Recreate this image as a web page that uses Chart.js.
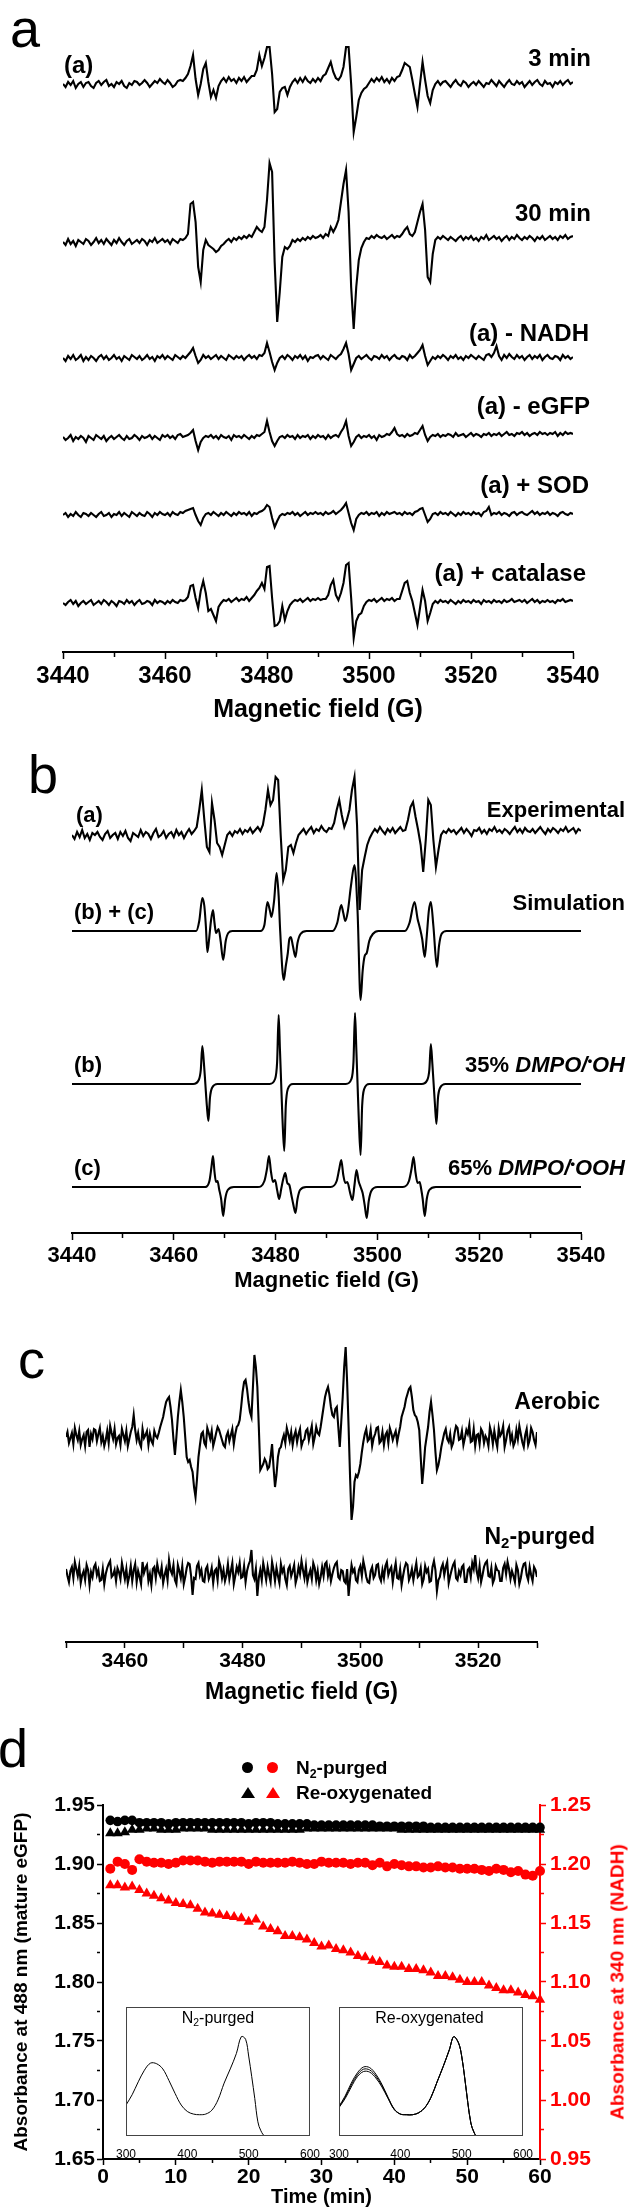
<!DOCTYPE html>
<html>
<head>
<meta charset="utf-8">
<script src="https://cdn.jsdelivr.net/npm/chart.js@4.4.1/dist/chart.umd.min.js"></script>
<style>
  body { margin: 0; background: #fff; }
  #fig { position: relative; width: 628px; height: 2209px; overflow: hidden; font-family: "Liberation Sans", Arial, sans-serif; color: #000; }
  canvas { position: absolute; }
  .t { position: absolute; white-space: nowrap; font-weight: bold; }
  .p24 { font-size: 24px; line-height: 24px; }
  .p22 { font-size: 22px; line-height: 22px; }
  .p23 { font-size: 23px; line-height: 23px; }
  .p19 { font-size: 19px; line-height: 19px; }
  .letter { position: absolute; font-size: 54px; line-height: 54px; font-weight: normal; }
  .inset-title { position: absolute; text-align: center; font-size: 16px; line-height: 16px; font-weight: normal; }
  sub { font-size: 65%; vertical-align: -0.3em; line-height: 0; }
  sup { font-size: 60%; vertical-align: 0.55em; line-height: 0; }
  .dot { position: absolute; width: 11px; height: 11px; border-radius: 50%; }
  .tri { position: absolute; width: 0; height: 0; border-left: 7px solid transparent; border-right: 7px solid transparent; border-bottom: 11px solid #000; }
</style>
</head>
<body>
<div id="fig">
  <canvas id="cA" width="628" height="740" style="left:0;top:0"></canvas>
  <canvas id="cB" width="628" height="560" style="left:0;top:740px"></canvas>
  <canvas id="cC" width="628" height="410" style="left:0;top:1300px"></canvas>
  <canvas id="cD" width="628" height="499" style="left:0;top:1710px"></canvas>
  <canvas id="cI1" width="210" height="165" style="left:113px;top:2000px"></canvas>
  <canvas id="cI2" width="210" height="165" style="left:326px;top:2000px"></canvas>

  <div class="letter" style="left:10px;top:1px">a</div>
  <div class="letter" style="left:28px;top:747px">b</div>
  <div class="letter" style="left:18px;top:1332px">c</div>
  <div class="letter" style="left:-2px;top:1721px">d</div>

  <div class="t p24" style="left:64px;top:53px">(a)</div>
  <div class="t p24" style="right:37px;top:46px">3 min</div>
  <div class="t p24" style="right:37px;top:201px">30 min</div>
  <div class="t p24" style="right:39px;top:321px">(a) - NADH</div>
  <div class="t p24" style="right:38px;top:394px">(a) - eGFP</div>
  <div class="t p24" style="right:39px;top:473px">(a) + SOD</div>
  <div class="t p24" style="right:42px;top:561px">(a) + catalase</div>

  <div class="t p22" style="left:76px;top:804px">(a)</div>
  <div class="t p22" style="right:3px;top:799px">Experimental</div>
  <div class="t p22" style="left:74px;top:901px">(b) + (c)</div>
  <div class="t p22" style="right:3px;top:892px">Simulation</div>
  <div class="t p22" style="left:74px;top:1054px">(b)</div>
  <div class="t p22" style="right:3px;top:1054px">35% <i>DMPO/<sup>•</sup>OH</i></div>
  <div class="t p22" style="left:74px;top:1157px">(c)</div>
  <div class="t p22" style="right:3px;top:1157px">65% <i>DMPO/<sup>•</sup>OOH</i></div>

  <div class="t p23" style="right:28px;top:1390px">Aerobic</div>
  <div class="t p23" style="right:33px;top:1525px">N<sub>2</sub>-purged</div>

  <div class="dot" style="left:242px;top:1762px;background:#000"></div>
  <div class="dot" style="left:267px;top:1762px;background:#f00"></div>
  <div class="t p19" style="left:296px;top:1758px">N<sub>2</sub>-purged</div>
  <div class="tri" style="left:241px;top:1787px"></div>
  <div class="tri" style="left:266px;top:1787px;border-bottom-color:#f00"></div>
  <div class="t p19" style="left:296px;top:1783px">Re-oxygenated</div>
  <div class="t p19" style="left:617px;top:1982px;color:#f00;transform:translate(-50%,-50%) rotate(-90deg)">Absorbance at 340 nm (NADH)</div>

  <div class="inset-title" style="left:123px;width:190px;top:2010px">N<sub>2</sub>-purged</div>
  <div class="inset-title" style="left:336px;width:187px;top:2010px">Re-oxygenated</div>
</div>

<script>
// ---- panels a/b: EPR spectra, 3440-3540 G sampled every 0.5 G (amplitudes in px above baseline)
const fieldStartAB = 3440;
const fieldStepAB = 0.5;
// ---- panel c: 3450-3530 G sampled every 0.25 G
const fieldStartC = 3450;
const fieldStepC = 0.25;

const spec3min = [
  0,-3,2,-1,3,-4,0,2,-3,1, 2,-2,-4,1,3,-1,2,4,-2,0, -3,2,0,3,-2,-4,1,-1,3,2, -1,1,4,1,-3,0,3,1,5,2,
  0,4,1,-3,-1,3,4,3,6,10, 18,29,5,-11,0,15,21,2,-13,-6, -14,-2,3,6,2,7,3,5,1,6, 3,7,2,5,8,8,14,29,18,26,
  37,37,10,-28,-25,-8,-4,-3,-11,-3, 2,5,1,6,2,7,3,1,5,2, 6,3,8,10,16,22,12,6,4,8, 17,37,37,0,-48,-33,-16,-9,-5,-3,
  1,5,2,6,3,7,2,5,1,6, 3,7,8,14,21,19,17,4,-10,-23, 0,22,4,-12,-19,-6,0,3,-1,2, 3,0,-3,1,4,0,-2,3,1,-3,
  0,2,-1,3,0,-3,1,0,4,1, -2,3,0,-3,1,4,0,-1,3,0, 2,-3,0,3,-1,2,4,0,-2,3, 0,1,-3,2,0,3,-1,2,4,0, 2];
const spec30min = [
  0,-3,3,-2,1,-4,2,0,-2,3, 1,-3,0,4,-1,2,-2,3,0,-3, 2,-1,4,0,-3,1,3,-2,0,2, -1,3,1,-3,2,0,4,-1,1,3,
  0,2,-2,3,1,-1,3,2,4,8, 38,40,20,-25,-40,-8,2,-3,-5,-7, -10,-8,-4,-2,1,3,0,4,2,5, 3,6,4,7,5,10,15,12,10,15,
  42,79,70,-20,-80,-50,-15,-5,-7,-4, 2,0,3,1,4,2,5,3,6,4, 5,7,4,8,6,15,10,15,22,40, 58,72,30,-45,-87,-45,-18,-6,0,4,
  3,6,4,7,5,4,6,3,5,7, 4,6,5,8,12,15,8,6,10,20, 30,38,12,-35,-40,-12,2,5,3,6, 4,2,5,3,1,4,6,2,5,3,
  6,2,4,1,5,3,7,2,4,6, 3,5,1,4,6,2,5,3,7,4, 2,5,3,6,4,1,5,3,6,2, 4,6,3,5,2,6,4,7,3,5, 6];
const specNoNADH = [
  0,-3,2,-1,3,-2,0,3,-3,1, -2,2,0,-3,1,3,-1,2,-2,0, 3,-1,1,-3,2,0,-2,3,1,-1, 2,-2,0,3,-1,1,-3,2,0,3,
  -1,2,0,-2,3,1,-1,2,0,3, 6,10,2,-5,-2,3,0,2,-1,1, 3,-1,2,0,-2,3,1,-1,2,0, 2,-2,1,3,0,2,-1,3,2,5,
  15,6,-4,-12,-5,0,2,-1,3,1, -2,2,0,3,-1,2,-3,1,0,2, 3,-1,2,0,-2,3,1,-1,2,4, 9,15,4,-12,-6,0,2,-1,1,3,
  0,-2,2,1,-1,3,0,2,-2,1, 3,0,-1,2,1,-2,3,0,2,5, 8,13,2,-7,-3,1,-1,2,0,3, 1,-2,2,0,3,-1,1,-2,2,0,
  3,1,-1,2,0,-2,3,4,1,5, 12,2,-2,3,0,4,1,-1,3,0, 2,-2,1,3,-1,2,0,3,-2,1, 3,0,-1,2,1,-2,3,0,2,-1, 1];
const specNoEGFP = [
  1,-2,0,3,-3,1,-1,2,0,-4, 2,0,-2,3,1,-1,2,-3,0,2, -1,1,3,0,-2,2,-1,0,3,1, -2,2,0,1,3,-1,2,0,-2,3,
  1,3,0,2,-1,3,4,1,2,3, 5,8,-3,-12,-4,0,2,1,3,0, 2,-1,3,1,0,2,-2,3,1,2, 0,3,1,-1,2,0,3,2,4,6,
  17,6,-3,-8,-3,1,2,0,3,1, 2,-1,3,0,2,1,3,-1,2,0, 3,1,2,-1,3,0,2,3,1,6, 10,17,2,-8,-4,1,3,0,2,1,
  3,0,2,-2,3,1,2,4,3,6, 10,4,2,3,1,4,2,3,5,4, 8,12,3,-3,1,3,2,4,1,3, 2,4,3,1,5,2,3,4,1,3,
  5,2,4,3,1,4,3,5,2,4, 3,5,2,4,6,3,4,2,5,4, 6,3,5,2,4,5,3,6,4,5, 3,5,4,6,2,5,3,6,4,5, 4];
const specSOD = [
  0,2,-2,1,-1,3,0,-2,2,1, -1,2,0,-2,1,3,-1,0,2,-2, 1,0,3,-1,2,0,-2,3,1,-1, 2,0,-1,3,1,-2,2,0,3,1,
  0,2,-1,3,1,0,3,2,4,5, 6,7,0,-6,-10,-3,1,2,0,3, 1,-1,2,0,3,1,-1,2,0,3, 1,2,0,3,-1,2,1,3,4,6,
  10,8,-3,-12,-6,-1,1,0,2,1, 3,0,2,-1,1,3,0,2,1,3, 1,2,0,3,1,2,4,1,3,5, 8,12,2,-8,-15,-4,0,2,1,3,
  0,2,1,3,-1,2,0,3,1,2, 3,1,2,0,3,1,2,0,3,4, 6,7,0,-7,-4,1,2,0,3,1, 2,0,3,1,-1,2,0,3,1,2,
  0,3,1,2,-1,3,4,8,0,2, 1,3,0,2,1,-1,2,3,0,2, 3,1,0,2,4,1,3,0,2,1, 3,0,2,1,-1,2,3,1,0,2, 1];
const specCatalase = [
  0,-2,1,3,-1,2,-3,0,2,-1, 1,3,-2,0,2,-1,3,1,-2,2, 0,-3,2,1,-1,3,0,2,-2,1, 3,-1,0,2,1,-2,3,0,2,1,
  -1,2,0,3,1,0,3,2,3,6, 17,18,5,-5,12,22,10,-8,-6,-12, -18,-4,0,3,2,4,1,3,5,2, 4,3,6,2,5,8,12,15,20,14,
  36,37,5,-23,-22,-18,-3,-17,-8,-2, 1,3,2,4,1,3,5,2,4,3, 5,3,4,4,8,18,23,8,3,10, 20,38,40,5,-35,-18,-12,-10,-3,1,
  3,2,4,1,3,5,2,4,3,5, 2,4,4,12,20,22,10,2,-10,-22, -5,13,2,-18,-10,-1,2,0,3,1, 2,0,3,1,-1,2,0,3,1,2,
  0,3,1,2,-1,3,1,2,0,3, 1,2,0,3,1,2,4,1,2,3, 1,3,0,2,4,1,3,0,2,1, 3,1,2,0,3,2,4,1,2,3, 2];

// ---- panel b: experimental spectrum (0.5 G grid) and simulations (field, amplitude pairs)
const specExperimental = [
  0,-4,3,-2,5,-3,1,-5,2,0, 3,-2,-5,1,4,-3,0,2,-4,3, -1,4,-3,-6,2,0,-2,5,-1,3, 1,-4,2,6,-2,0,4,-3,1,3,
  -2,5,0,3,-3,2,6,1,4,8, 25,45,15,-12,-17,32,15,-8,-12,-20, -10,0,3,-1,4,2,6,1,5,3, 7,2,5,8,4,10,25,45,30,35,
  58,55,0,-45,-35,-12,-10,-18,-8,0, 3,6,1,5,8,2,6,4,9,5, 3,7,6,12,25,35,20,8,15,25, 45,58,10,-75,-35,-22,-10,-3,2,6,
  3,8,4,1,6,3,7,2,5,8, 4,5,15,28,33,18,5,-10,-37,-5, 35,30,-5,-32,-15,0,4,2,6,3, 5,1,4,7,2,6,3,-1,5,4,
  7,2,5,1,6,4,8,3,5,2, 6,4,1,5,8,3,6,2,7,4, 3,6,2,5,8,4,1,6,3,7, 5,2,6,4,8,3,5,7,2,6, 4];

const simSumField = [3440,3464.4,3465.0,3465.6,3466.0,3466.3,3466.6,3466.9,3467.3,3467.7,3468.0,3468.3,3468.8,3469.2,3469.7,3470.2,3470.7,3471.5,
  3477.0,3477.8,3478.4,3478.9,3479.2,3479.7,3480.2,3480.6,3480.9,3481.6,3482.0,3482.4,3482.7,3483.0,3483.4,3483.9,3484.3,3484.9,3486.1,
  3491.2,3492.1,3492.9,3493.3,3493.7,3494.2,3494.8,3495.5,3496.1,3496.7,3497.1,3497.5,3497.9,3498.4,3499.1,3500.2,
  3505.4,3506.3,3507.3,3507.9,3508.3,3508.8,3509.3,3509.7,3510.1,3510.5,3511.0,3511.7,3512.1,3512.6,3513.6,3540];
const simSumAmp = [0,0,10,33,25,5,-21,-10,10,21,8,-2,2,-10,-29,-10,-2,0,
  0,6,29,20,14,30,58,35,0,-49,-35,-22,-8,-6,-15,-26,-12,-3,0,
  0,8,26,18,10,20,45,66,20,-69,-40,-25,-22,-10,-3,0,
  0,8,29,12,4,-8,-26,-5,20,29,5,-36,-15,-3,0,0];
const simOHField = [3440,3463.8,3464.9,3465.3,3465.6,3465.9,3466.2,3466.5,3466.8,3467.1,3467.5,3468.6,
  3478.8,3479.9,3480.3,3480.6,3480.85,3481.1,3481.35,3481.7,3482.0,3482.4,3483.4,
  3493.8,3494.9,3495.3,3495.6,3495.85,3496.1,3496.35,3496.7,3497.0,3497.4,3498.4,
  3508.7,3509.8,3510.2,3510.5,3510.8,3511.05,3511.3,3511.6,3511.9,3512.3,3513.4,3540];
const simOHAmp = [0,0,4,14,38,22,0,-22,-37,-14,-4,0,
  0,5,22,69,35,0,-35,-67,-22,-5,0,
  0,5,22,71,36,0,-36,-71,-22,-5,0,
  0,4,14,40,20,0,-20,-40,-14,-4,0,0];
const simOOHField = [3440,3466.2,3467.0,3467.4,3467.7,3468.0,3468.3,3468.6,3468.9,3469.3,3469.7,3470.1,3470.6,3471.8,
  3476.5,3477.8,3478.3,3478.7,3479.1,3479.5,3479.9,3480.3,3480.7,3481.1,3481.5,3481.9,3482.3,3482.7,3483.1,3483.5,3483.9,3484.3,3484.8,3486,
  3490.8,3492.0,3492.5,3492.9,3493.3,3493.7,3494.1,3494.6,3495.1,3495.5,3495.9,3496.3,3496.7,3497.1,3497.5,3497.9,3498.3,3498.8,3500,
  3505,3506.2,3506.7,3507.1,3507.5,3507.9,3508.3,3508.6,3508.9,3509.3,3509.7,3510.2,3511.5,3540];
const simOOHAmp = [0,0,6,20,31,15,5,6,-2,-12,-29,-12,-3,0,
  0,6,18,31,15,5,7,-3,-12,-2,8,14,4,2,-8,-18,-26,-12,-3,0,
  0,6,18,27,12,4,5,-5,-13,2,17,6,0,-6,-18,-31,-14,-4,0,
  0,6,18,30,14,4,5,-2,-12,-29,-12,-3,0,0];

// ---- panel c spectra (0.25 G grid)
const specAerobic = [
  0,5,-6,-1,4,-7,9,2,-3,6,-8,-2,2,-9,5,7,-10,3,-2,8,
  7,-4,3,9,-5,1,-9,-3,6,-6,11,4,-2,8,-7,-1,1,-8,8,2,
  -4,6,-9,-2,5,10,22,7,-3,4,-6,-10,8,-1,2,6,-8,3,-4,-7,
  6,1,-1,4,10,15,20,28,35,38,40,30,17,-2,-18,0,20,35,47,35,
  20,0,-20,-25,-23,-30,-35,-50,-60,-42,-20,-8,3,5,-6,-9,9,4,-2,6,
  -9,-3,4,10,7,2,-3,-8,-10,1,5,-4,2,8,-7,3,10,12,17,30,
  45,55,57,48,35,25,20,50,82,70,50,10,-33,-30,-27,-22,-25,-32,-30,-20,
  -7,-30,-50,-38,-20,-12,-10,-3,2,-6,9,3,-4,5,-8,1,6,-5,3,8,
  -9,-4,-2,6,8,-3,4,11,-7,0,10,4,2,10,20,30,40,46,50,42,
  30,22,20,28,30,10,-10,15,40,70,90,55,10,-40,-83,-70,-45,-38,-40,-35,
  -27,-15,-5,3,8,-4,-2,7,-9,-1,3,9,10,-6,-4,5,-8,2,5,-6,
  9,4,-3,2,6,-5,3,10,20,25,30,38,43,48,50,40,27,22,20,15,
  7,-20,-47,-30,-10,0,10,25,35,22,7,-15,-33,-28,-20,-10,-3,4,8,-2,
  -5,3,-10,-6,4,11,9,-3,-2,6,-8,-1,7,3,12,-5,-4,8,-9,2,
  3,-7,8,5,-6,1,-2,-9,10,4,-7,6,-3,-10,9,1,4,11,-10,-3,
  6,10,-4,2,-9,-5,7,-2,11,3,-5,-10,2,8,-8,-3,9,5,-3,-8,
  5];
const specN2 = [
  4,-3,-9,2,6,-5,11,4,-3,7,-10,-2,2,-7,8,3,-12,1,-4,6,
  9,-2,3,-8,-7,4,-11,-1,5,9,12,-4,-2,3,-8,5,1,-6,10,2,
  -6,4,-10,-3,7,-8,3,9,-9,2,-4,-11,11,0,5,8,-8,-1,-12,4,
  6,-5,9,1,-3,6,-10,-2,4,-7,13,3,-1,8,-7,-11,8,2,-5,7,
  -11,-4,5,10,9,-3,-22,-5,-6,7,10,-2,3,-8,-9,4,7,-6,-2,5,
  -10,2,4,-7,12,6,-5,3,-8,-2,9,-6,2,10,-11,-3,6,1,10,-5,
  -4,7,-9,2,8,12,23,-2,-6,4,-23,-5,3,-7,10,2,-7,6,-2,-9,
  11,3,-8,5,-3,-10,9,1,5,-6,-12,4,7,-3,2,8,-10,-4,6,-1,
  12,3,-5,7,-9,-2,3,-6,10,5,-7,2,-11,-4,6,-3,9,11,-3,4,
  -8,-1,5,9,11,-4,-6,3,2,-8,-10,4,-23,-6,8,1,4,-7,-9,3,
  7,-3,12,5,-4,-9,-10,2,6,-5,-2,8,9,-4,-8,3,-5,7,11,-2,
  3,6,-9,2,10,-5,-6,4,-12,-3,5,10,8,-7,-3,4,-7,2,10,-4,
  -2,5,-11,-6,7,1,4,-9,-8,6,12,3,-18,-7,-4,5,9,-2,6,11,
  -10,-3,3,8,11,-5,-7,2,-2,6,8,-9,-9,3,5,-4,10,4,18,2,
  -5,7,-9,-2,6,10,12,-3,-4,5,-10,-6,7,3,2,-8,-8,5,9,-1,
  11,4,-6,2,-3,-9,8,3,-11,-5,4,9,10,-2,-7,6,-2,-8,6,3,
  -4];

// ---- panel d: absorbance vs time
const timeMin = [1,2,3,4,5,6,7,8,9,10,11,12,13,14,15,16,17,18,19,20,21,22,23,24,25,26,27,28,29,30,
  31,32,33,34,35,36,37,38,39,40,41,42,43,44,45,46,47,48,49,50,51,52,53,54,55,56,57,58,59,60];
const n2Abs488 = [1.937,1.936,1.937,1.937,1.935,1.935,1.935,1.935,1.934,1.935,1.935,1.935,1.935,1.935,1.935,1.935,1.935,1.935,1.935,1.934,
  1.935,1.935,1.935,1.934,1.934,1.934,1.934,1.934,1.933,1.933,1.933,1.933,1.933,1.933,1.933,1.933,1.933,1.932,1.932,1.932,
  1.932,1.932,1.932,1.932,1.931,1.931,1.931,1.931,1.931,1.931,1.931,1.931,1.931,1.931,1.931,1.931,1.931,1.931,1.931,1.931];
const reoxAbs488 = [1.926,1.926,1.927,1.929,1.929,1.930,1.930,1.929,1.929,1.929,1.930,1.930,1.930,1.930,1.929,1.929,1.929,1.929,1.929,1.929,
  1.929,1.929,1.929,1.929,1.929,1.929,1.929,1.930,1.930,1.930,1.930,1.930,1.930,1.930,1.930,1.930,1.930,1.930,1.930,1.930,
  1.929,1.929,1.929,1.929,1.929,1.929,1.929,1.929,1.929,1.929,1.929,1.929,1.929,1.929,1.929,1.929,1.929,1.929,1.929,1.929];
const n2Abs340 = [1.196,1.202,1.200,1.195,1.204,1.202,1.201,1.201,1.200,1.201,1.203,1.203,1.203,1.202,1.201,1.202,1.202,1.202,1.202,1.200,
  1.202,1.201,1.201,1.201,1.201,1.202,1.201,1.200,1.200,1.202,1.201,1.201,1.201,1.200,1.201,1.201,1.199,1.201,1.198,1.200,
  1.199,1.198,1.198,1.197,1.197,1.198,1.197,1.197,1.196,1.196,1.196,1.195,1.194,1.196,1.195,1.193,1.194,1.191,1.190,1.194];
const reoxAbs340 = [1.182,1.182,1.180,1.181,1.178,1.175,1.173,1.171,1.169,1.167,1.166,1.165,1.162,1.159,1.158,1.157,1.156,1.155,1.154,1.151,
  1.153,1.147,1.145,1.143,1.139,1.139,1.138,1.136,1.133,1.130,1.131,1.128,1.127,1.125,1.122,1.121,1.118,1.117,1.114,1.113,
  1.113,1.111,1.111,1.110,1.108,1.105,1.105,1.104,1.102,1.100,1.100,1.100,1.097,1.095,1.093,1.093,1.091,1.089,1.088,1.085];

// insets: UV-vis spectra (relative absorbance)
const wlN2 = [300,310,320,330,340,350,360,370,380,390,400,410,420,430,440,450,460,470,480,488,495,500,505,510,515,520,527,560,600];
const absN2 = [0.24,0.32,0.42,0.51,0.565,0.56,0.52,0.43,0.33,0.24,0.19,0.17,0.165,0.17,0.20,0.28,0.41,0.52,0.64,0.77,0.75,0.62,0.46,0.29,0.11,0.04,0,0,0];
const wlReox = [300,310,320,330,340,350,360,370,380,390,400,410,420,430,440,450,460,470,480,487,495,500,505,510,515,520,525,560,600];
const absReoxFirst = [0.23,0.31,0.41,0.49,0.535,0.53,0.48,0.40,0.30,0.21,0.17,0.165,0.165,0.18,0.22,0.30,0.42,0.54,0.67,0.77,0.72,0.62,0.45,0.26,0.10,0.03,0,0,0];
const absReoxMid = [0.225,0.30,0.395,0.475,0.518,0.512,0.465,0.39,0.295,0.207,0.17,0.165,0.165,0.18,0.22,0.30,0.42,0.54,0.67,0.77,0.72,0.62,0.45,0.26,0.10,0.03,0,0,0];
const absReoxLast = [0.22,0.29,0.38,0.46,0.50,0.495,0.45,0.38,0.29,0.205,0.17,0.165,0.165,0.18,0.22,0.30,0.42,0.54,0.67,0.77,0.72,0.62,0.45,0.26,0.10,0.03,0,0,0];

Chart.defaults.font.family = '"Liberation Sans", Arial, sans-serif';
Chart.defaults.color = '#000';

function gridded(start, step, amps, offset) {
  return amps.map((a, i) => ({ x: start + i * step, y: offset + a }));
}
function paired(xs, ys, offset) {
  return xs.map((x, i) => ({ x: x, y: ys[i] + offset }));
}
function trace(data, smooth) {
  const ds = { data: data, borderColor: '#000', borderWidth: 2.1, pointRadius: 0, fill: false, tension: 0 };
  if (smooth) ds.cubicInterpolationMode = 'monotone';
  return ds;
}

function eprChart(id, o) {
  return new Chart(document.getElementById(id), {
    type: 'line',
    data: { datasets: o.datasets },
    options: {
      responsive: false,
      animation: false,
      layout: { padding: { left: o.left, right: o.right, top: 0, bottom: 0 } },
      plugins: { legend: { display: false }, tooltip: { enabled: false } },
      scales: {
        x: {
          type: 'linear', min: o.min, max: o.max,
          afterFit: s => { s.height = o.axisH; },
          border: { display: true, color: '#000', width: 2 },
          grid: {
            display: true, drawOnChartArea: false, drawTicks: true,
            tickLength: o.tickLen, tickWidth: 1.5, tickColor: '#000',
            tickBorderDash: c => (o.minor && c.tick && c.tick.value % 20 !== 0) ? [4, 40] : []
          },
          ticks: {
            stepSize: 10, autoSkip: false, maxRotation: 0, padding: o.tickPad,
            font: { size: o.tickFont, weight: 'bold' },
            callback: v => (v % 20 === 0 ? String(v) : '')
          },
          title: {
            display: true, text: 'Magnetic field (G)',
            font: { size: o.titleFont, weight: 'bold' },
            padding: { top: 0, bottom: o.titlePad }
          }
        },
        y: { display: false, min: 0, max: o.ymax }
      }
    }
  });
}

// panel a
eprChart('cA', {
  left: 63, right: 55, min: 3440, max: 3540, axisH: 88, ymax: 652,
  tickLen: 7, minor: true, tickPad: 3, tickFont: 24, titleFont: 25, titlePad: 15,
  datasets: [
    trace(gridded(fieldStartAB, fieldStepAB, spec3min, 568)),
    trace(gridded(fieldStartAB, fieldStepAB, spec30min, 410)),
    trace(gridded(fieldStartAB, fieldStepAB, specNoNADH, 294)),
    trace(gridded(fieldStartAB, fieldStepAB, specNoEGFP, 214)),
    trace(gridded(fieldStartAB, fieldStepAB, specSOD, 137)),
    trace(gridded(fieldStartAB, fieldStepAB, specCatalase, 49))
  ]
});

// panel b
eprChart('cB', {
  left: 72, right: 47, min: 3440, max: 3540, axisH: 67, ymax: 493,
  tickLen: 7, minor: true, tickPad: 3, tickFont: 22, titleFont: 22, titlePad: 6,
  datasets: [
    trace(gridded(fieldStartAB, fieldStepAB, specExperimental, 398)),
    trace(paired(simSumField, simSumAmp, 302), true),
    trace(paired(simOHField, simOHAmp, 149), true),
    trace(paired(simOOHField, simOOHAmp, 46), true)
  ]
});

// panel c
eprChart('cC', {
  left: 66, right: 91, min: 3450, max: 3530, axisH: 68, ymax: 342,
  tickLen: 6, minor: false, tickPad: 1, tickFont: 21, titleFont: 23, titlePad: 4,
  datasets: [
    trace(gridded(fieldStartC, fieldStepC, specAerobic, 205)),
    trace(gridded(fieldStartC, fieldStepC, specN2, 69))
  ]
});

// panel d
function xy(xs, ys) { return xs.map((x, i) => ({ x: x, y: ys[i] })); }
const minorDash = step => c => (c.tick && Math.round(c.tick.value * 1000) % step !== 0) ? [3, 40] : [];

new Chart(document.getElementById('cD'), {
  type: 'scatter',
  data: {
    datasets: [
      { data: xy(timeMin, n2Abs488), yAxisID: 'y', pointStyle: 'circle', pointRadius: 4.8, backgroundColor: '#000', borderWidth: 0 },
      { data: xy(timeMin, reoxAbs488), yAxisID: 'y', pointStyle: 'triangle', pointRadius: 6, backgroundColor: '#000', borderWidth: 0 },
      { data: xy(timeMin, n2Abs340), yAxisID: 'y1', pointStyle: 'circle', pointRadius: 5, backgroundColor: '#f00', borderWidth: 0 },
      { data: xy(timeMin, reoxAbs340), yAxisID: 'y1', pointStyle: 'triangle', pointRadius: 6, backgroundColor: '#f00', borderWidth: 0 }
    ]
  },
  options: {
    responsive: false,
    animation: false,
    clip: false,
    layout: { padding: { left: 0, right: 0, top: 95, bottom: 0 } },
    plugins: { legend: { display: false }, tooltip: { enabled: false } },
    scales: {
      x: {
        type: 'linear', min: 0, max: 60,
        afterFit: s => { s.height = 50; },
        border: { color: '#000', width: 2 },
        grid: { drawOnChartArea: false, tickLength: 6, tickWidth: 1.5, tickColor: '#000', tickBorderDash: minorDash(10000) },
        ticks: { stepSize: 5, autoSkip: false, maxRotation: 0, padding: 0, font: { size: 21, weight: 'bold' },
                 callback: v => (v % 10 === 0 ? String(v) : '') },
        title: { display: true, text: 'Time (min)', font: { size: 20, weight: 'bold' }, padding: { top: 0, bottom: 0 } }
      },
      y: {
        position: 'left', min: 1.65, max: 1.95,
        afterFit: s => { s.width = 103; },
        border: { color: '#000', width: 2 },
        grid: { drawOnChartArea: false, tickLength: 6, tickWidth: 1.5, tickColor: '#000', tickBorderDash: minorDash(50) },
        ticks: { stepSize: 0.025, autoSkip: false, padding: 2, font: { size: 21, weight: 'bold' },
                 callback: v => (Math.round(v * 1000) % 50 === 0 ? v.toFixed(2) : '') },
        title: { display: true, text: 'Absorbance at 488 nm (mature eGFP)', font: { size: 19, weight: 'bold' }, padding: { top: 10, bottom: 0 } }
      },
      y1: {
        position: 'right', min: 0.95, max: 1.25,
        afterFit: s => { s.width = 88; },
        border: { color: '#f00', width: 2 },
        grid: { drawOnChartArea: false, tickLength: 6, tickWidth: 1.5, tickColor: '#f00', tickBorderDash: minorDash(50) },
        ticks: { stepSize: 0.025, autoSkip: false, padding: 4, color: '#f00', font: { size: 21, weight: 'bold' },
                 callback: v => (Math.round(v * 1000) % 50 === 0 ? v.toFixed(2) : '') }
      }
    }
  }
});

// insets
const frame = {
  id: 'frame',
  afterDraw(chart) {
    const { ctx, chartArea: a } = chart;
    ctx.save();
    ctx.strokeStyle = '#444';
    ctx.lineWidth = 1;
    ctx.strokeRect(a.left + 0.5, a.top + 0.5, a.right - a.left - 1, a.bottom - a.top - 1);
    ctx.restore();
  }
};
function insetChart(id, padRight, datasets) {
  return new Chart(document.getElementById(id), {
    type: 'line',
    data: { datasets: datasets },
    options: {
      responsive: false,
      animation: false,
      layout: { padding: { left: 10, right: padRight, top: 7, bottom: 0 } },
      plugins: { legend: { display: false }, tooltip: { enabled: false } },
      scales: {
        x: {
          type: 'linear', min: 300, max: 600,
          afterFit: s => { s.height = 29; },
          border: { display: false },
          grid: { display: false },
          ticks: { stepSize: 100, padding: 3, font: { size: 12 }, callback: v => String(v) }
        },
        y: { display: false, min: 0, max: 1 }
      }
    },
    plugins: [frame]
  });
}
const thin = d => ({ data: d, borderColor: '#000', borderWidth: 1, pointRadius: 0, tension: 0.35 });
insetChart('cI1', 10, [thin(xy(wlN2, absN2))]);
insetChart('cI2', 13, [thin(xy(wlReox, absReoxFirst)), thin(xy(wlReox, absReoxMid)), thin(xy(wlReox, absReoxLast))]);
</script>
</body>
</html>
